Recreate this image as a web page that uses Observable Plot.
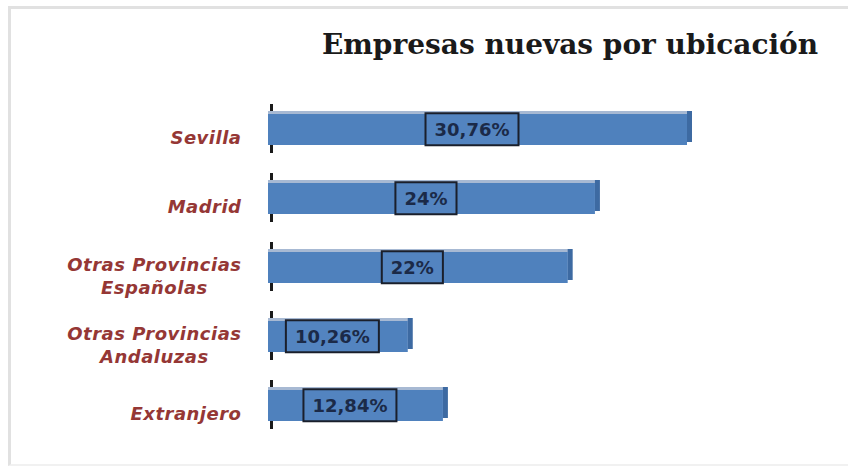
<!DOCTYPE html>
<html>
<head>
<meta charset="utf-8">
<script src="https://cdn.jsdelivr.net/npm/d3@7"></script>
<script src="https://cdn.jsdelivr.net/npm/@observablehq/plot@0.6"></script>
<style>
  html, body { margin: 0; padding: 0; background: #fff; overflow: hidden; }
  #wrap { position: relative; width: 848px; height: 468px; overflow: hidden; background: #fff; }
  #frame { position: absolute; left: 8px; top: 6px; width: 900px; height: 455px;
           border-left: 3px solid #e1e1e1; border-top: 3px solid #e1e1e1; border-bottom: 2px solid #f1f1f1; }
  #title { position: absolute; left: 570px; top: 31px; transform: translateX(-50%);
           font-family: "DejaVu Serif", serif; font-weight: bold; font-size: 28px; line-height: 28px;
           color: #1a1a1a; white-space: nowrap; }
  #chart { position: absolute; left: 0; top: 0; }
</style>
</head>
<body>
<div id="wrap">
  <div id="frame"></div>
  <div id="chart"></div>
  <div id="title">Empresas nuevas por ubicación</div>
</div>
<script>
const categories = ["Sevilla", "Madrid", "Otras Provincias\nEspañolas", "Otras Provincias\nAndaluzas", "Extranjero"];
const values = [30.76, 24, 22, 10.26, 12.84];
const valueLabels = ["30,76%", "24%", "22%", "10,26%", "12,84%"];

const data = categories.map((c, i) => ({cat: c, v: values[i], label: valueLabels[i]}));

const svg = Plot.plot({
  width: 848,
  height: 468,
  marginLeft: 268,
  marginRight: 161,
  marginTop: 75,
  marginBottom: 7,
  x: {domain: [0, 30.76], axis: null},
  y: {domain: categories, padding: 0.55, axis: null, label: null},
  style: {background: "transparent", fontFamily: "DejaVu Sans"},
  marks: [
    Plot.tickX(data, {x: 0, y: "cat", stroke: "#1a1a1a", strokeWidth: 3, dx: 3, insetTop: -10, insetBottom: -8}),
    Plot.barX(data, {x: "v", y: "cat", fill: "#3d6aa2", dx: 5, dy: -3}),
    Plot.barX(data, {x: "v", y: "cat", fill: "#a7b9d3", dy: -3}),
    Plot.barX(data, {x: "v", y: "cat", fill: "#4F81BD"}),
    Plot.axisY({tickSize: 0, tickPadding: 27, dy: 7, label: null, fill: "#953735", fontSize: 18,
                fontWeight: "bold", fontStyle: "italic", lineHeight: 1.28, letterSpacing: 0.5}),
    Plot.text(data, {x: d => d.v / 2, y: "cat", text: "label", dx: -6, fill: "#1b2a48",
                     fontSize: 18, fontWeight: "bold", className: "vlabel"})
  ]
});
document.getElementById("chart").appendChild(svg);

// center multi-line category labels within their right-aligned block
svg.querySelectorAll('g[aria-label="y-axis tick label"] text').forEach(t => {
  t.setAttribute("letter-spacing", "0.5");
  const spans = t.querySelectorAll("tspan");
  if (!spans.length) return;
  const W = Math.max(...Array.from(spans, s => s.getComputedTextLength()));
  t.setAttribute("text-anchor", "middle");
  spans.forEach(s => s.setAttribute("x", -W / 2));
});

// boxes around value labels
svg.querySelectorAll("g.vlabel text").forEach(t => {
  const bb = t.getBBox();
  const r = document.createElementNS("http://www.w3.org/2000/svg", "rect");
  r.setAttribute("x", bb.x - 9);
  r.setAttribute("y", bb.y + bb.height / 2 - 16);
  r.setAttribute("width", bb.width + 18);
  r.setAttribute("height", 32);
  r.setAttribute("fill", "#5384c0");
  r.setAttribute("stroke", "#1a1f2b");
  r.setAttribute("stroke-width", 2);
  const tr = t.getAttribute("transform");
  if (tr) r.setAttribute("transform", tr);
  t.parentNode.insertBefore(r, t);
});
</script>
</body>
</html>
